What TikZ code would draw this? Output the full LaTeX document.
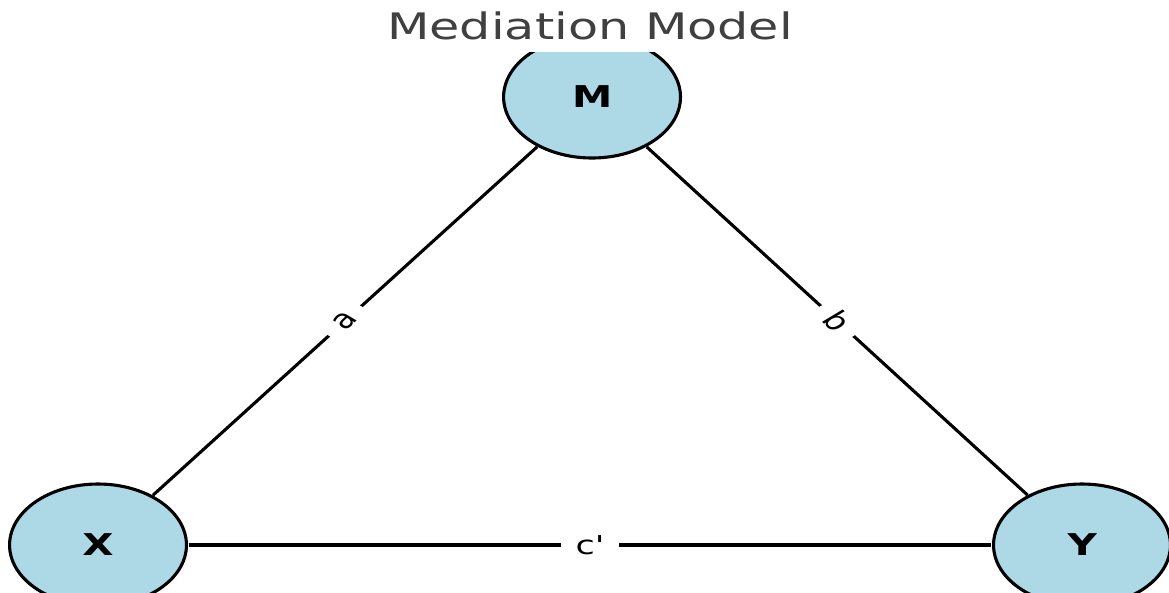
\documentclass[tikz,border=0pt]{standalone}
\usepackage{fontspec}
\setmainfont{DejaVu Sans}
\newfontfamily\lblfont{DejaVu Sans}
\definecolor{nodeblue}{HTML}{ADD8E6}
\definecolor{titlegray}{HTML}{404040}
\tikzset{
  var/.style={circle, draw=black, line width=3.1pt, fill=nodeblue, minimum size=122pt, inner sep=0pt},
  vartext/.style={font=\fontsize{30}{34}\selectfont\bfseries, xscale=0.93},
  edge/.style={draw=black, line width=3.1pt},
  lbl/.style={fill=white, inner xsep=11pt, inner ysep=3pt, font=\lblfont\fontsize{26}{30}\selectfont},
  titlestyle/.style={text=titlegray, font=\fontsize{36.5}{42}\selectfont, inner sep=0pt}
}
\begin{document}
\begin{tikzpicture}[x=1pt, y=-1pt, xscale=1.45, every node/.append style={transform shape}]
\useasboundingbox (0,0) rectangle (806.2,592);
\node[titlestyle, anchor=base, xscale=0.93] (title) at (406.9,39) {Mediation Model};
\begin{scope}
\clip (0,52) rectangle (806.2,592);
\node[var] (M) at (408.3,97) {};
\node[var] (X) at (67.6,545) {};
\node[var] (Y) at (746.2,545) {};
\node[vartext] (Mt) at (M) {M};
\node[vartext] (Xt) at (X) {X};
\node[vartext] (Yt) at (Y) {Y};
\draw[edge] (X) -- node[lbl, xscale=0.93, rotate=50.8] {a} (M);
\draw[edge] (M) -- node[lbl, xscale=0.93, rotate=-51.1] {b} (Y);
\draw[edge] (X) -- node[lbl, xscale=0.93] {c'} (Y);
\end{scope}
\end{tikzpicture}
\end{document}
